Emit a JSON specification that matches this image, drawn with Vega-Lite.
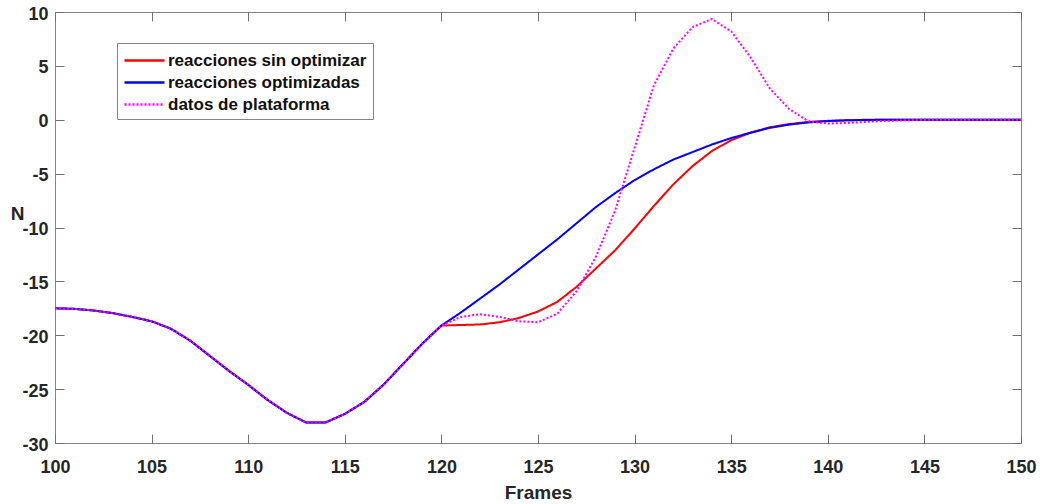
{
  "$schema": "https://vega.github.io/schema/vega-lite/v6.json",
  "width": 966,
  "height": 431,
  "autosize": {"type": "none"},
  "padding": {"left": 55, "top": 12, "right": 19, "bottom": 61},
  "background": "white",
  "config": {
    "view": {"stroke": "#858585", "strokeWidth": 1},
    "font": "Liberation Sans",
    "axis": {
      "grid": false,
      "domain": false,
      "tickColor": "#707070",
      "tickSize": -9,
      "tickWidth": 1,
      "labelFont": "Liberation Sans",
      "labelFontWeight": "bold",
      "labelFontSize": 18,
      "labelColor": "#262626",
      "titleFont": "Liberation Sans",
      "titleFontWeight": "bold",
      "titleFontSize": 19,
      "titleColor": "#262626"
    },
    "legend": {
      "orient": "none",
      "legendX": 62,
      "legendY": 31,
      "strokeColor": "#858585",
      "fillColor": "white",
      "padding": 6,
      "symbolType": "M-1,0H3",
      "symbolSize": 400,
      "symbolStrokeWidth": 2.5,
      "symbolFillColor": "transparent",
      "labelFont": "Liberation Sans",
      "labelFontWeight": "bold",
      "labelFontSize": 17,
      "labelColor": "#111111",
      "labelOffset": 22,
      "rowPadding": 2,
      "labelLimit": 400
    }
  },
  "data": {
    "values": [
      {"serie": "reacciones sin optimizar", "frame": 100, "value": -17.5},
      {"serie": "reacciones sin optimizar", "frame": 101, "value": -17.55},
      {"serie": "reacciones sin optimizar", "frame": 102, "value": -17.7},
      {"serie": "reacciones sin optimizar", "frame": 103, "value": -17.95},
      {"serie": "reacciones sin optimizar", "frame": 104, "value": -18.3},
      {"serie": "reacciones sin optimizar", "frame": 105, "value": -18.7},
      {"serie": "reacciones sin optimizar", "frame": 106, "value": -19.4},
      {"serie": "reacciones sin optimizar", "frame": 107, "value": -20.5},
      {"serie": "reacciones sin optimizar", "frame": 108, "value": -21.9},
      {"serie": "reacciones sin optimizar", "frame": 109, "value": -23.3},
      {"serie": "reacciones sin optimizar", "frame": 110, "value": -24.6},
      {"serie": "reacciones sin optimizar", "frame": 111, "value": -26.0},
      {"serie": "reacciones sin optimizar", "frame": 112, "value": -27.2},
      {"serie": "reacciones sin optimizar", "frame": 113, "value": -28.1},
      {"serie": "reacciones sin optimizar", "frame": 114, "value": -28.1},
      {"serie": "reacciones sin optimizar", "frame": 115, "value": -27.3},
      {"serie": "reacciones sin optimizar", "frame": 116, "value": -26.2},
      {"serie": "reacciones sin optimizar", "frame": 117, "value": -24.6},
      {"serie": "reacciones sin optimizar", "frame": 118, "value": -22.7},
      {"serie": "reacciones sin optimizar", "frame": 119, "value": -20.8},
      {"serie": "reacciones sin optimizar", "frame": 120, "value": -19.1},
      {"serie": "reacciones sin optimizar", "frame": 121, "value": -19.05},
      {"serie": "reacciones sin optimizar", "frame": 122, "value": -19.0},
      {"serie": "reacciones sin optimizar", "frame": 123, "value": -18.8},
      {"serie": "reacciones sin optimizar", "frame": 124, "value": -18.4},
      {"serie": "reacciones sin optimizar", "frame": 125, "value": -17.8},
      {"serie": "reacciones sin optimizar", "frame": 126, "value": -16.9},
      {"serie": "reacciones sin optimizar", "frame": 127, "value": -15.5},
      {"serie": "reacciones sin optimizar", "frame": 128, "value": -13.8},
      {"serie": "reacciones sin optimizar", "frame": 129, "value": -12.1},
      {"serie": "reacciones sin optimizar", "frame": 130, "value": -10.1},
      {"serie": "reacciones sin optimizar", "frame": 131, "value": -8.0},
      {"serie": "reacciones sin optimizar", "frame": 132, "value": -6.0},
      {"serie": "reacciones sin optimizar", "frame": 133, "value": -4.3},
      {"serie": "reacciones sin optimizar", "frame": 134, "value": -2.9},
      {"serie": "reacciones sin optimizar", "frame": 135, "value": -1.9},
      {"serie": "reacciones sin optimizar", "frame": 136, "value": -1.2},
      {"serie": "reacciones sin optimizar", "frame": 137, "value": -0.7},
      {"serie": "reacciones sin optimizar", "frame": 138, "value": -0.4},
      {"serie": "reacciones sin optimizar", "frame": 139, "value": -0.2},
      {"serie": "reacciones sin optimizar", "frame": 140, "value": -0.1},
      {"serie": "reacciones sin optimizar", "frame": 141, "value": -0.05},
      {"serie": "reacciones sin optimizar", "frame": 142, "value": 0},
      {"serie": "reacciones sin optimizar", "frame": 143, "value": 0},
      {"serie": "reacciones sin optimizar", "frame": 144, "value": 0},
      {"serie": "reacciones sin optimizar", "frame": 145, "value": 0},
      {"serie": "reacciones sin optimizar", "frame": 146, "value": 0},
      {"serie": "reacciones sin optimizar", "frame": 147, "value": 0},
      {"serie": "reacciones sin optimizar", "frame": 148, "value": 0},
      {"serie": "reacciones sin optimizar", "frame": 149, "value": 0},
      {"serie": "reacciones sin optimizar", "frame": 150, "value": 0},

      {"serie": "reacciones optimizadas", "frame": 100, "value": -17.5},
      {"serie": "reacciones optimizadas", "frame": 101, "value": -17.55},
      {"serie": "reacciones optimizadas", "frame": 102, "value": -17.7},
      {"serie": "reacciones optimizadas", "frame": 103, "value": -17.95},
      {"serie": "reacciones optimizadas", "frame": 104, "value": -18.3},
      {"serie": "reacciones optimizadas", "frame": 105, "value": -18.7},
      {"serie": "reacciones optimizadas", "frame": 106, "value": -19.4},
      {"serie": "reacciones optimizadas", "frame": 107, "value": -20.5},
      {"serie": "reacciones optimizadas", "frame": 108, "value": -21.9},
      {"serie": "reacciones optimizadas", "frame": 109, "value": -23.3},
      {"serie": "reacciones optimizadas", "frame": 110, "value": -24.6},
      {"serie": "reacciones optimizadas", "frame": 111, "value": -26.0},
      {"serie": "reacciones optimizadas", "frame": 112, "value": -27.2},
      {"serie": "reacciones optimizadas", "frame": 113, "value": -28.1},
      {"serie": "reacciones optimizadas", "frame": 114, "value": -28.1},
      {"serie": "reacciones optimizadas", "frame": 115, "value": -27.3},
      {"serie": "reacciones optimizadas", "frame": 116, "value": -26.2},
      {"serie": "reacciones optimizadas", "frame": 117, "value": -24.6},
      {"serie": "reacciones optimizadas", "frame": 118, "value": -22.7},
      {"serie": "reacciones optimizadas", "frame": 119, "value": -20.8},
      {"serie": "reacciones optimizadas", "frame": 120, "value": -19.1},
      {"serie": "reacciones optimizadas", "frame": 121, "value": -17.9},
      {"serie": "reacciones optimizadas", "frame": 122, "value": -16.6},
      {"serie": "reacciones optimizadas", "frame": 123, "value": -15.3},
      {"serie": "reacciones optimizadas", "frame": 124, "value": -13.9},
      {"serie": "reacciones optimizadas", "frame": 125, "value": -12.5},
      {"serie": "reacciones optimizadas", "frame": 126, "value": -11.1},
      {"serie": "reacciones optimizadas", "frame": 127, "value": -9.6},
      {"serie": "reacciones optimizadas", "frame": 128, "value": -8.1},
      {"serie": "reacciones optimizadas", "frame": 129, "value": -6.8},
      {"serie": "reacciones optimizadas", "frame": 130, "value": -5.6},
      {"serie": "reacciones optimizadas", "frame": 131, "value": -4.6},
      {"serie": "reacciones optimizadas", "frame": 132, "value": -3.7},
      {"serie": "reacciones optimizadas", "frame": 133, "value": -3.0},
      {"serie": "reacciones optimizadas", "frame": 134, "value": -2.3},
      {"serie": "reacciones optimizadas", "frame": 135, "value": -1.7},
      {"serie": "reacciones optimizadas", "frame": 136, "value": -1.2},
      {"serie": "reacciones optimizadas", "frame": 137, "value": -0.75},
      {"serie": "reacciones optimizadas", "frame": 138, "value": -0.45},
      {"serie": "reacciones optimizadas", "frame": 139, "value": -0.25},
      {"serie": "reacciones optimizadas", "frame": 140, "value": -0.12},
      {"serie": "reacciones optimizadas", "frame": 141, "value": -0.05},
      {"serie": "reacciones optimizadas", "frame": 142, "value": -0.02},
      {"serie": "reacciones optimizadas", "frame": 143, "value": 0},
      {"serie": "reacciones optimizadas", "frame": 144, "value": 0},
      {"serie": "reacciones optimizadas", "frame": 145, "value": 0},
      {"serie": "reacciones optimizadas", "frame": 146, "value": 0},
      {"serie": "reacciones optimizadas", "frame": 147, "value": 0},
      {"serie": "reacciones optimizadas", "frame": 148, "value": 0},
      {"serie": "reacciones optimizadas", "frame": 149, "value": 0},
      {"serie": "reacciones optimizadas", "frame": 150, "value": 0},

      {"serie": "datos de plataforma", "frame": 100, "value": -17.5},
      {"serie": "datos de plataforma", "frame": 101, "value": -17.55},
      {"serie": "datos de plataforma", "frame": 102, "value": -17.7},
      {"serie": "datos de plataforma", "frame": 103, "value": -17.95},
      {"serie": "datos de plataforma", "frame": 104, "value": -18.3},
      {"serie": "datos de plataforma", "frame": 105, "value": -18.7},
      {"serie": "datos de plataforma", "frame": 106, "value": -19.4},
      {"serie": "datos de plataforma", "frame": 107, "value": -20.5},
      {"serie": "datos de plataforma", "frame": 108, "value": -21.9},
      {"serie": "datos de plataforma", "frame": 109, "value": -23.3},
      {"serie": "datos de plataforma", "frame": 110, "value": -24.6},
      {"serie": "datos de plataforma", "frame": 111, "value": -26.0},
      {"serie": "datos de plataforma", "frame": 112, "value": -27.2},
      {"serie": "datos de plataforma", "frame": 113, "value": -28.1},
      {"serie": "datos de plataforma", "frame": 114, "value": -28.1},
      {"serie": "datos de plataforma", "frame": 115, "value": -27.3},
      {"serie": "datos de plataforma", "frame": 116, "value": -26.2},
      {"serie": "datos de plataforma", "frame": 117, "value": -24.6},
      {"serie": "datos de plataforma", "frame": 118, "value": -22.7},
      {"serie": "datos de plataforma", "frame": 119, "value": -20.8},
      {"serie": "datos de plataforma", "frame": 120, "value": -19.1},
      {"serie": "datos de plataforma", "frame": 121, "value": -18.3},
      {"serie": "datos de plataforma", "frame": 122, "value": -18.05},
      {"serie": "datos de plataforma", "frame": 123, "value": -18.3},
      {"serie": "datos de plataforma", "frame": 124, "value": -18.7},
      {"serie": "datos de plataforma", "frame": 125, "value": -18.8},
      {"serie": "datos de plataforma", "frame": 126, "value": -18.0},
      {"serie": "datos de plataforma", "frame": 127, "value": -15.9},
      {"serie": "datos de plataforma", "frame": 128, "value": -12.7},
      {"serie": "datos de plataforma", "frame": 129, "value": -8.4},
      {"serie": "datos de plataforma", "frame": 130, "value": -2.6},
      {"serie": "datos de plataforma", "frame": 131, "value": 3.2},
      {"serie": "datos de plataforma", "frame": 132, "value": 6.6},
      {"serie": "datos de plataforma", "frame": 133, "value": 8.6},
      {"serie": "datos de plataforma", "frame": 134, "value": 9.35},
      {"serie": "datos de plataforma", "frame": 135, "value": 8.2},
      {"serie": "datos de plataforma", "frame": 136, "value": 5.8},
      {"serie": "datos de plataforma", "frame": 137, "value": 2.9},
      {"serie": "datos de plataforma", "frame": 138, "value": 1.0},
      {"serie": "datos de plataforma", "frame": 139, "value": -0.15},
      {"serie": "datos de plataforma", "frame": 140, "value": -0.35},
      {"serie": "datos de plataforma", "frame": 141, "value": -0.3},
      {"serie": "datos de plataforma", "frame": 142, "value": -0.2},
      {"serie": "datos de plataforma", "frame": 143, "value": -0.1},
      {"serie": "datos de plataforma", "frame": 144, "value": -0.05},
      {"serie": "datos de plataforma", "frame": 145, "value": 0},
      {"serie": "datos de plataforma", "frame": 146, "value": 0},
      {"serie": "datos de plataforma", "frame": 147, "value": 0},
      {"serie": "datos de plataforma", "frame": 148, "value": 0},
      {"serie": "datos de plataforma", "frame": 149, "value": 0},
      {"serie": "datos de plataforma", "frame": 150, "value": 0}
    ]
  },
  "layer": [
    {
      "mark": {"type": "line", "strokeWidth": 2},
      "encoding": {
        "x": {
          "field": "frame",
          "type": "quantitative",
          "scale": {"domain": [100, 150], "nice": false, "zero": false},
          "axis": {
            "orient": "bottom",
            "values": [100, 105, 110, 115, 120, 125, 130, 135, 140, 145, 150],
            "title": "Frames",
            "labelPadding": 38,
            "labelBaseline": "alphabetic",
            "labelFlush": false,
            "titleY": 55,
            "titleBaseline": "alphabetic"
          }
        },
        "y": {
          "field": "value",
          "type": "quantitative",
          "scale": {"domain": [-30, 10], "nice": false, "zero": false},
          "axis": {
            "orient": "left",
            "values": [-30, -25, -20, -15, -10, -5, 0, 5, 10],
            "labelExpr": "replace(datum.label, '\u2212', '-')",
            "title": "N",
            "titleAngle": 0,
            "titleX": -38,
            "titleY": 201,
            "titleAlign": "center",
            "titleBaseline": "middle",
            "labelPadding": 16,
            "labelOffset": 2
          }
        },
        "color": {
          "field": "serie",
          "type": "nominal",
          "scale": {
            "domain": ["reacciones sin optimizar", "reacciones optimizadas", "datos de plataforma"],
            "range": ["#ff0000", "#0000ff", "#ff00ff"]
          },
          "legend": {"title": null}
        },
        "strokeDash": {
          "field": "serie",
          "type": "nominal",
          "scale": {
            "domain": ["reacciones sin optimizar", "reacciones optimizadas", "datos de plataforma"],
            "range": [[1, 0], [1, 0], [2, 2]]
          },
          "legend": {"title": null}
        }
      }
    },
    {
      "mark": {"type": "line", "opacity": 0},
      "encoding": {
        "x": {
          "field": "frame",
          "type": "quantitative",
          "axis": {
            "orient": "top",
            "values": [100, 105, 110, 115, 120, 125, 130, 135, 140, 145, 150],
            "labels": false,
            "title": null
          }
        },
        "y": {
          "field": "value",
          "type": "quantitative",
          "axis": {
            "orient": "right",
            "values": [-30, -25, -20, -15, -10, -5, 0, 5, 10],
            "labels": false,
            "title": null
          }
        },
        "detail": {"field": "serie"}
      }
    }
  ],
  "resolve": {"axis": {"x": "independent", "y": "independent"}}
}
